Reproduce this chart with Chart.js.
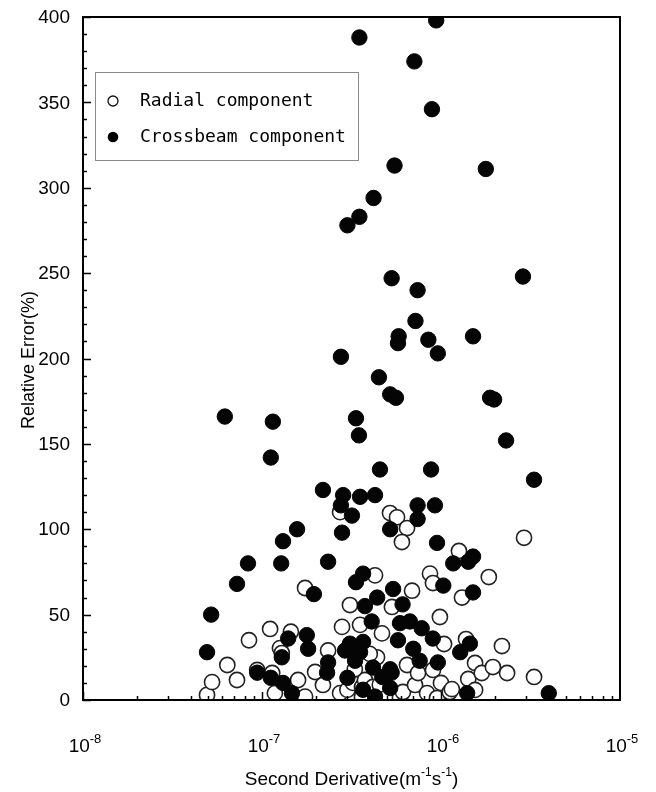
<!DOCTYPE html>
<html>
<head>
<meta charset="utf-8">
<script src="https://cdn.jsdelivr.net/npm/chart.js@4/dist/chart.umd.min.js"></script>
<style>
  body { margin: 0; background: #fff; }
</style>
</head>
<body>
<canvas id="scatter" width="656" height="792"></canvas>
<script>
// second derivative (m^-1 s^-1) vs relative error (%)
const radialX = [4.93e-8, 5.26e-8, 6.4e-8, 7.25e-8, 8.46e-8, 9.4e-8, 1.11e-7, 1.14e-7, 1.18e-7, 1.26e-7,
  1.29e-7, 1.45e-7, 1.59e-7, 1.74e-7, 1.98e-7, 2.19e-7, 2.34e-7, 2.73e-7, 2.73e-7, 2.80e-7,
  3.0e-7, 3.1e-7, 3.22e-7, 3.53e-7, 3.62e-7, 3.62e-7, 3.76e-7, 4.28e-7, 4.39e-7, 4.17e-7,
  4.68e-7, 5.19e-7, 5.68e-7, 6.46e-7, 6.05e-7, 5.32e-7, 5.9e-7, 6.13e-7, 6.46e-7, 6.89e-7,
  7.16e-7, 7.44e-7, 8.36e-7, 8.68e-7, 9.02e-7, 9.02e-7, 9.5e-7, 9.86e-7, 1.0e-6, 1.04e-6,
  1.12e-6, 1.15e-6, 1.26e-6, 1.31e-6, 1.38e-6, 1.42e-6, 1.55e-6, 1.55e-6, 1.69e-6, 1.85e-6,
  1.95e-6, 2.19e-6, 2.34e-6, 2.91e-6, 3.31e-6, 1.74e-7, 3.3e-7, 4.0e-7, 4.55e-7];
const radialY = [3, 10.5, 20.5, 11.7, 35, 17.6, 41.6, 15.8, 4, 30.4,
  27.5, 40, 11.7, 65.6, 16.4, 8.8, 29, 4, 110, 42.8,
  5.9, 55.6, 10, 44, 1.8, 7.6, 11.7, 73, 25, 7.6,
  39, 109.5, 107, 100.7, 92.5, 54.5, 1.8, 4.7, 20.5, 64,
  8.8, 15.8, 4, 74, 68.5, 17.6, 1.2, 48.6, 10, 32.8,
  4.7, 6.4, 87.3, 60, 35.7, 12.3, 21.7, 5.9, 15.8, 72,
  19.3, 31.6, 15.8, 95, 13.5, 2, 18, 27, 9];

const crossX = [9.4e-7, 3.5e-7, 7.1e-7, 8.9e-7, 5.5e-7, 1.78e-6, 4.2e-7, 3.5e-7, 3.0e-7, 5.3e-7,
  2.87e-6, 7.4e-7, 7.2e-7, 5.8e-7, 5.75e-7, 8.5e-7, 1.51e-6, 9.6e-7, 2.76e-7, 4.5e-7,
  5.2e-7, 5.6e-7, 1.88e-6, 1.98e-6, 6.2e-8, 1.15e-7, 3.35e-7, 3.48e-7, 2.31e-6, 1.12e-7,
  4.56e-7, 8.8e-7, 3.31e-6, 2.19e-7, 2.84e-7, 3.53e-7, 4.28e-7, 2.76e-7, 7.4e-7, 9.25e-7,
  3.18e-7, 7.4e-7, 1.57e-7, 2.80e-7, 5.2e-7, 1.31e-7, 9.5e-7, 2.34e-7, 8.35e-8, 1.28e-7,
  1.17e-6, 1.42e-6, 1.51e-6, 3.67e-7, 7.25e-8, 3.35e-7, 1.03e-6, 5.4e-7, 1.95e-7, 1.51e-6,
  4.4e-7, 3.76e-7, 6.1e-7, 5.2e-8, 4.1e-7, 5.9e-7, 6.7e-7, 7.8e-7, 9.0e-7, 5.75e-7,
  1.40e-7, 1.78e-7, 1.81e-7, 3.1e-7, 3.53e-7, 2.91e-7, 3.31e-7, 3.67e-7, 7.0e-7, 1.45e-6,
  1.28e-6, 4.93e-8, 1.29e-7, 2.34e-7, 7.6e-7, 9.6e-7, 4.17e-7, 2.31e-7, 9.4e-8, 5.2e-7,
  5.3e-7, 1.12e-7, 3.0e-7, 4.7e-7, 1.31e-7, 5.2e-7, 3.67e-7, 1.47e-7, 4.28e-7, 1.40e-6,
  4.0e-6];
const crossY = [398, 388, 374, 346, 313, 311, 294, 283, 278, 247,
  248, 240, 222, 213, 209, 211, 213, 203, 201, 189,
  179, 177, 177, 176, 166, 163, 165, 155, 152, 142,
  135, 135, 129, 123, 120, 119, 120, 114, 114, 114,
  108, 106, 100, 98, 100, 93, 92, 81, 80, 80,
  80, 81, 84, 74, 68, 69, 67, 65, 62, 63,
  60, 55, 56, 50, 46, 45, 46, 42, 36, 35,
  36, 38, 30, 33, 28, 29, 23, 34, 30, 33,
  28, 28, 25, 22, 23, 22, 19, 16, 16, 18,
  16, 13, 13, 13.5, 10, 7, 6, 4, 2, 4,
  4];

const xDecades = [-8, -7, -6, -5];
const yLabels = [0, 50, 100, 150, 200, 250, 300, 350, 400];

const seriesNames = ['Radial component', 'Crossbeam component'];

function pairs(xs, ys) {
  return xs.map((x, i) => ({ x: x, y: ys[i] }));
}

// text with a raised exponent part, parts = [[text, isSup], ...]
function drawMixed(ctx, parts, cx, baseline, size, supSize) {
  let total = 0;
  const widths = parts.map(p => {
    ctx.font = (p[1] ? supSize : size) + 'px "Liberation Sans", Arial, sans-serif';
    const w = ctx.measureText(p[0]).width;
    total += w;
    return w;
  });
  let x = cx - total / 2;
  ctx.textAlign = 'left';
  ctx.textBaseline = 'alphabetic';
  parts.forEach((p, i) => {
    ctx.font = (p[1] ? supSize : size) + 'px "Liberation Sans", Arial, sans-serif';
    ctx.fillText(p[0], x, p[1] ? baseline - size * 0.45 : baseline);
    x += widths[i];
  });
}

const framePlugin = {
  id: 'frame',
  afterDatasetsDraw(chart) {
    const ctx = chart.ctx;
    const xs = chart.scales.x, ys = chart.scales.y;
    const a = chart.chartArea;
    ctx.save();
    ctx.fillStyle = '#000';
    ctx.strokeStyle = '#000';

    // inward ticks on the left axis, every 10 with longer ones every 50
    ctx.lineWidth = 1.5;
    ctx.beginPath();
    for (let v = 0; v <= 400; v += 10) {
      const py = Math.round(ys.getPixelForValue(v)) + 0.5;
      const len = v % 50 === 0 ? 8 : 4;
      ctx.moveTo(a.left, py);
      ctx.lineTo(a.left + len, py);
    }
    // inward ticks on the bottom axis
    for (let e = -8; e < -5; e++) {
      for (let k = 1; k <= 9; k++) {
        const px = Math.round(xs.getPixelForValue(k * Math.pow(10, e))) + 0.5;
        const len = k === 1 ? 8 : 4;
        ctx.moveTo(px, a.bottom);
        ctx.lineTo(px, a.bottom - len);
      }
    }
    ctx.stroke();

    // frame
    ctx.lineWidth = 2;
    ctx.strokeRect(a.left, a.top, a.right - a.left, a.bottom - a.top);

    // y tick labels
    ctx.font = '19px "Liberation Sans", Arial, sans-serif';
    ctx.textAlign = 'right';
    ctx.textBaseline = 'middle';
    yLabels.forEach(v => {
      ctx.fillText(String(v), a.left - 13, ys.getPixelForValue(v) + 1);
    });

    // x tick labels as powers of ten
    xDecades.forEach(e => {
      const px = xs.getPixelForValue(Math.pow(10, e));
      drawMixed(ctx, [['10', false], [String(e), true]], px + 2, 752, 19, 13);
    });

    // axis titles
    drawMixed(ctx, [['Second Derivative(m', false], ['-1', true], ['s', false], ['-1', true], [')', false]],
      (a.left + a.right) / 2, 785, 19, 12);

    ctx.save();
    ctx.translate(29, 360);
    ctx.rotate(-Math.PI / 2);
    ctx.font = '18px "Liberation Sans", Arial, sans-serif';
    ctx.textAlign = 'center';
    ctx.textBaseline = 'middle';
    ctx.fillText('Relative Error(%)', 0, 0);
    ctx.restore();

    // legend box
    ctx.fillStyle = '#fff';
    ctx.fillRect(95, 72, 263, 88);
    ctx.strokeStyle = '#8a8a8a';
    ctx.lineWidth = 1;
    ctx.strokeRect(95.5, 72.5, 263, 88);

    ctx.lineWidth = 1.3;
    ctx.strokeStyle = '#111';
    ctx.beginPath();
    ctx.arc(113, 101, 5, 0, Math.PI * 2);
    ctx.stroke();
    ctx.fillStyle = '#000';
    ctx.beginPath();
    ctx.arc(113, 137, 5.3, 0, Math.PI * 2);
    ctx.fill();

    ctx.font = '18px "DejaVu Sans Mono", "Liberation Mono", monospace';
    ctx.textAlign = 'left';
    ctx.textBaseline = 'middle';
    ctx.fillText(seriesNames[0], 140, 101);
    ctx.fillText(seriesNames[1], 140, 137);
    ctx.restore();
  }
};

new Chart(document.getElementById('scatter'), {
  type: 'scatter',
  data: {
    datasets: [
      {
        label: seriesNames[1],
        data: pairs(crossX, crossY),
        backgroundColor: '#050505',
        borderColor: '#050505',
        borderWidth: 1,
        pointRadius: 7.7,
        order: 1
      },
      {
        label: seriesNames[0],
        data: pairs(radialX, radialY),
        backgroundColor: '#fff',
        borderColor: '#222',
        borderWidth: 1.6,
        pointRadius: 7.6,
        order: 2
      }
    ]
  },
  options: {
    responsive: false,
    animation: false,
    events: [],
    layout: { padding: { left: 83, right: 36, top: 17, bottom: 92 } },
    scales: {
      x: { type: 'logarithmic', min: 1e-8, max: 1e-5, display: false },
      y: { type: 'linear', min: 0, max: 400, display: false }
    },
    plugins: {
      legend: { display: false },
      tooltip: { enabled: false }
    }
  },
  plugins: [framePlugin]
});
</script>
</body>
</html>
